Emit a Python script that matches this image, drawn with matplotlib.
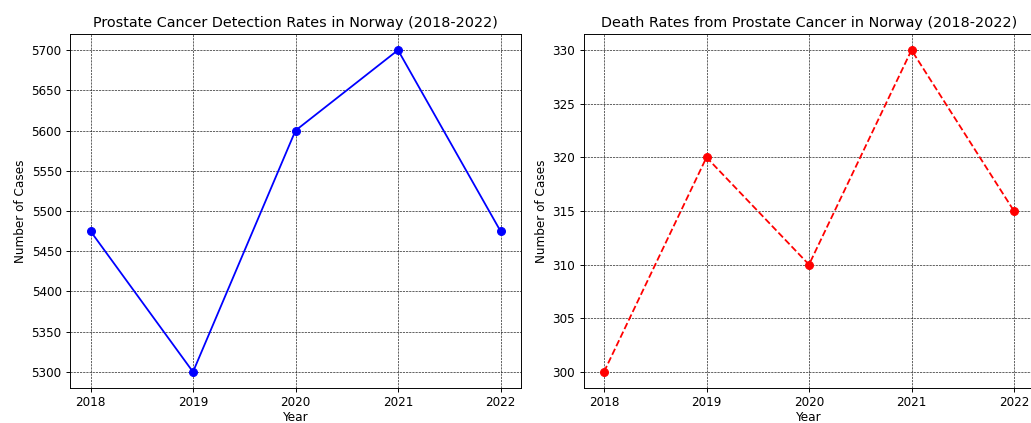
import matplotlib
matplotlib.use("Agg")
import matplotlib.pyplot as plt

years = [2018, 2019, 2020, 2021, 2022]
detection_cases = [5475, 5300, 5600, 5700, 5475]
death_cases = [300, 320, 310, 330, 315]

DPI = 86
W, H = 1031, 423
fig = plt.figure(figsize=(W / DPI, H / DPI), dpi=DPI)

# Axes rectangles in pixels: left, bottom spine, width, height
bottom_px, top_px = 388, 34
ax_h = (bottom_px - top_px) / H
ax_y = 1 - bottom_px / H
ax_w = 451 / W
ax1 = fig.add_axes([70 / W, ax_y, ax_w, ax_h])
ax2 = fig.add_axes([583.5 / W, ax_y, ax_w, ax_h])

ax1.plot(years, detection_cases, marker="o", markersize=6.5, linestyle="-", color="blue")
ax1.set_title("Prostate Cancer Detection Rates in Norway (2018-2022)")
ax1.set_xlabel("Year", labelpad=1.5)
ax1.set_ylabel("Number of Cases")
ax1.set_xticks(years)
ax1.grid(True, color="black", linestyle="--", linewidth=0.5)

ax2.plot(years, death_cases, marker="o", markersize=6.5, linestyle="--", color="red")
ax2.set_title("Death Rates from Prostate Cancer in Norway (2018-2022)")
ax2.set_xlabel("Year", labelpad=1.5)
ax2.set_ylabel("Number of Cases")
ax2.set_xticks(years)
ax2.grid(True, color="black", linestyle="--", linewidth=0.5)

fig.savefig("out.png", dpi=DPI)
